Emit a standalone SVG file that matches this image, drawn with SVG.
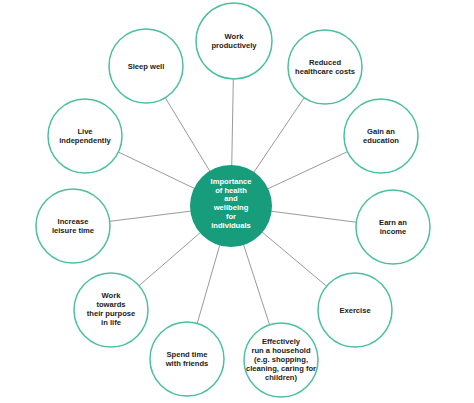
<svg xmlns="http://www.w3.org/2000/svg" width="474" height="403" viewBox="0 0 474 403">
<style>
.c{fill:#fff;stroke:#4cbf9f;stroke-width:1.5}
.t{font-family:"Liberation Sans",Arial,sans-serif;font-weight:bold;font-size:7.6px;fill:#222;text-anchor:middle}
.w{fill:#fff}
#connectors line{stroke:#9a9a9a;stroke-width:1}
</style>
<rect width="474" height="403" fill="#fff"/>
<g id="connectors">
<line x1="231" y1="206" x2="234" y2="41"/>
<line x1="231" y1="206" x2="146" y2="66"/>
<line x1="231" y1="206" x2="325" y2="67"/>
<line x1="231" y1="206" x2="85" y2="136"/>
<line x1="231" y1="206" x2="381" y2="136"/>
<line x1="231" y1="206" x2="73" y2="226"/>
<line x1="231" y1="206" x2="393" y2="227"/>
<line x1="231" y1="206" x2="111" y2="310"/>
<line x1="231" y1="206" x2="355" y2="310"/>
<line x1="231" y1="206" x2="187" y2="359"/>
<line x1="231" y1="206" x2="281" y2="360"/>
</g>
<g id="center">
<circle cx="231" cy="206" r="41" fill="#179c7c"/>
<text class="t w" x="231"><tspan x="231" y="184">Importance</tspan><tspan x="231" y="192.7">of health</tspan><tspan x="231" y="201.4">and</tspan><tspan x="231" y="210.1">wellbeing</tspan><tspan x="231" y="218.8">for</tspan><tspan x="231" y="227.5">individuals</tspan></text>
</g>
<g id="work-productively">
<circle class="c" cx="234" cy="41" r="38"/>
<text class="t"><tspan x="234" y="39">Work</tspan><tspan x="234" y="48">productively</tspan></text>
</g>
<g id="sleep-well">
<circle class="c" cx="146" cy="66" r="37"/>
<text class="t" x="146" y="69">Sleep well</text>
</g>
<g id="reduced-healthcare">
<circle class="c" cx="325" cy="67" r="37"/>
<text class="t"><tspan x="325" y="65">Reduced</tspan><tspan x="325" y="74">healthcare costs</tspan></text>
</g>
<g id="live-independently">
<circle class="c" cx="85" cy="136" r="37"/>
<text class="t"><tspan x="85" y="134">Live</tspan><tspan x="85" y="143">independently</tspan></text>
</g>
<g id="gain-education">
<circle class="c" cx="381" cy="136" r="37"/>
<text class="t"><tspan x="381" y="134">Gain an</tspan><tspan x="381" y="143">education</tspan></text>
</g>
<g id="increase-leisure">
<circle class="c" cx="73" cy="226" r="37"/>
<text class="t"><tspan x="73" y="224">Increase</tspan><tspan x="73" y="233">leisure time</tspan></text>
</g>
<g id="earn-income">
<circle class="c" cx="393" cy="227" r="37"/>
<text class="t"><tspan x="393" y="225">Earn an</tspan><tspan x="393" y="234">income</tspan></text>
</g>
<g id="work-towards">
<circle class="c" cx="111" cy="310" r="37"/>
<text class="t"><tspan x="111" y="298">Work</tspan><tspan x="111" y="307">towards</tspan><tspan x="111" y="316">their purpose</tspan><tspan x="111" y="325">in life</tspan></text>
</g>
<g id="exercise">
<circle class="c" cx="355" cy="310" r="37"/>
<text class="t" x="355" y="313">Exercise</text>
</g>
<g id="spend-time">
<circle class="c" cx="187" cy="359" r="37"/>
<text class="t"><tspan x="187" y="357">Spend time</tspan><tspan x="187" y="366">with friends</tspan></text>
</g>
<g id="household">
<circle class="c" cx="281" cy="360" r="37"/>
<text class="t"><tspan x="281" y="344">Effectively</tspan><tspan x="281" y="353">run a household</tspan><tspan x="281" y="362">(e.g. shopping,</tspan><tspan x="281" y="371">cleaning, caring for</tspan><tspan x="281" y="380">children)</tspan></text>
</g>
</svg>
